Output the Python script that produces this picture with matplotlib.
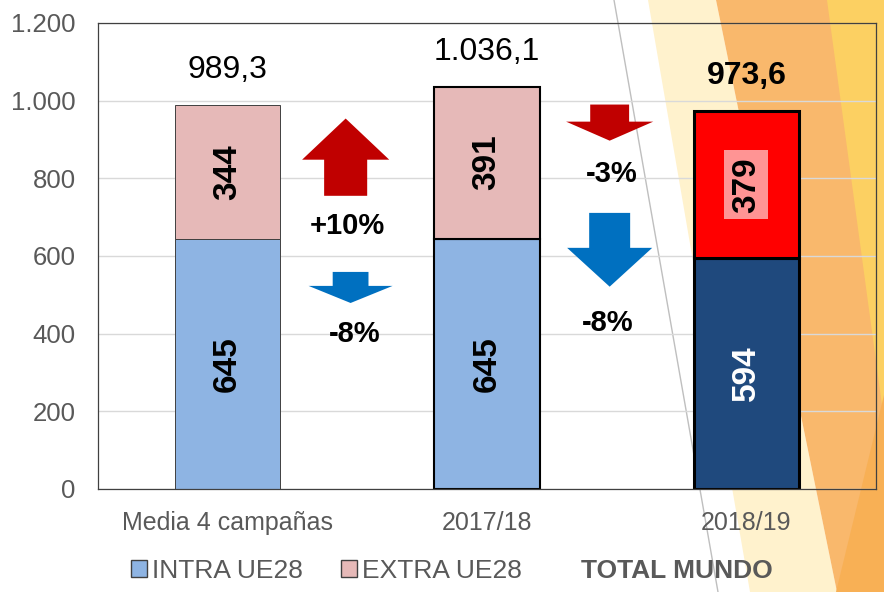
"""
Stacked bars: INTRA / EXTRA UE28, three campaigns, with change arrows.
"""

import matplotlib
matplotlib.use("Agg")
import matplotlib.pyplot as plt
from matplotlib.patches import Polygon, Patch
from matplotlib.lines import Line2D

plt.rcParams["font.family"] = ["Liberation Sans", "DejaVu Sans"]

# data
categories = ["Media 4 campañas", "2017/18", "2018/19"]
intra = [645, 645, 594]
extra = [344, 391, 379]
totals = [989.3, 1036.1, 973.6]
series_names = ["INTRA UE28", "EXTRA UE28", "TOTAL MUNDO"]
yticks = [0, 200, 400, 600, 800, 1000, 1200]

# change annotations between campaigns: (x, label, y of label)
changes = [(0.46, "+10%", 678), (0.49, "-8%", 400),
           (1.48, "-3%", 810), (1.465, "-8%", 428)]

intra_colors = ["#8EB4E3", "#8EB4E3", "#1F497D"]
extra_colors = ["#E6B9B8", "#E6B9B8", "#FF0000"]
edge_colors = ["#404040", "black", "black"]
edge_widths = [0.7, 1.5, 2.2]
label_colors = ["black", "black", "white"]
GRAY = "#595959"
RED = "#C00000"
BLUE = "#0070C0"

W, H = 884, 592


def fig_xy(px, py):
    return (px / W, 1 - py / H)


def thousands(v, decimals=0):
    s = f"{v:,.{decimals}f}"
    return s.replace(",", "X").replace(".", ",").replace("X", ".")


def arrow(ax, xc, y_tail, y_base, y_tip, shaft_hw, head_hw, color):
    pts = [(xc - shaft_hw, y_tail), (xc + shaft_hw, y_tail),
           (xc + shaft_hw, y_base), (xc + head_hw, y_base),
           (xc, y_tip), (xc - head_hw, y_base), (xc - shaft_hw, y_base)]
    ax.add_patch(Polygon(pts, closed=True, fc=color, ec="none", zorder=3))


fig = plt.figure(figsize=(W / 100, H / 100), dpi=100)

# decorative background shapes on the right
shapes = [
    ([(648, 0), (716, 0), (837, 592), (750, 592)], "#FFF2CD"),
    ([(716, 0), (884, 0), (884, 592), (837, 592)], "#F9B86C"),
    ([(827, 0), (884, 0), (884, 420)], "#FCD062"),
    ([(884, 395), (884, 592), (836, 592)], "#F8B055"),
]
for pts, c in shapes:
    fig.add_artist(Polygon([fig_xy(*p) for p in pts], closed=True,
                           transform=fig.transFigure, fc=c, ec="none",
                           zorder=-2))
x0, y0 = fig_xy(614, 0)
x1, y1 = fig_xy(718, 592)
fig.add_artist(Line2D([x0, x1], [y0, y1], transform=fig.transFigure,
                      color="#BFBFBF", lw=1, zorder=-1))

ax = fig.add_axes([98 / W, 1 - 489 / H, (876 - 98) / W, (489 - 23) / H])
ax.patch.set_alpha(0)

x = list(range(len(categories)))
ax.bar(x, intra, width=0.405, color=intra_colors, edgecolor=edge_colors,
       linewidth=edge_widths, zorder=2)
ax.bar(x, extra, width=0.405, bottom=intra, color=extra_colors,
       edgecolor=edge_colors, linewidth=edge_widths, zorder=2)

for i in x:
    ax.text(i, intra[i] / 2, str(intra[i]), rotation=90, ha="center",
            va="center", fontsize=24, weight="bold", color=label_colors[i],
            zorder=4)
    kw = {}
    if i == 2:
        kw["bbox"] = dict(boxstyle="square,pad=0.2", fc="#FF9494", ec="none")
    ax.text(i, intra[i] + extra[i] / 2, str(extra[i]), rotation=90,
            ha="center", va="center", fontsize=24, weight="bold",
            color="black", zorder=4, **kw)
    ax.annotate(thousands(totals[i], 1), xy=(i, totals[i]), xytext=(0, 25),
                textcoords="offset points", ha="center", va="center",
                fontsize=23, weight="bold" if i == 2 else "normal")

# arrows
arrow(ax, 0.455, 755, 848, 954, 0.083, 0.168, RED)
arrow(ax, 0.474, 559, 523, 479, 0.069, 0.162, BLUE)
arrow(ax, 1.473, 990, 946, 897, 0.075, 0.168, RED)
arrow(ax, 1.473, 711, 621, 521, 0.079, 0.164, BLUE)
for cx, lab, cy in changes:
    ax.text(cx, cy, lab, ha="center", va="center", fontsize=21,
            weight="bold", zorder=4)

ax.set_xlim(-0.5, 2.5)
ax.set_ylim(0, 1200)
ax.set_yticks(yticks)
ax.set_yticklabels([thousands(v) for v in yticks])
ax.set_xticks(x)
ax.set_xticklabels(categories)
ax.tick_params(axis="y", length=0, pad=16, labelsize=18.5, labelcolor=GRAY)
ax.tick_params(axis="x", length=0, pad=16, labelsize=18, labelcolor=GRAY)
ax.grid(True, axis="y", color="#D9D9D9", lw=1)
ax.set_axisbelow(True)
for s in ax.spines.values():
    s.set_color("#404040")
    s.set_linewidth(0.9)

handles = [Patch(fc=intra_colors[0], ec="#404040"),
           Patch(fc=extra_colors[0], ec="#404040"),
           Patch(fc="none", ec="none")]
leg = fig.legend(handles, series_names, ncol=3, loc="center",
                 bbox_to_anchor=fig_xy(452, 571), frameon=False,
                 fontsize=19, handlelength=0.6, handleheight=0.6,
                 handletextpad=0.2, columnspacing=1.45, labelcolor=GRAY)
leg.get_texts()[2].set_weight("bold")

fig.savefig("out.png", dpi=100)
